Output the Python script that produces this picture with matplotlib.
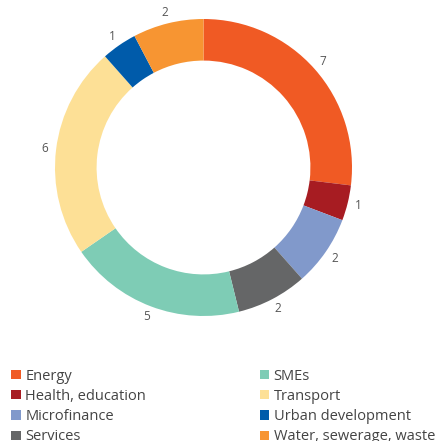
import matplotlib
matplotlib.use("Agg")
import matplotlib.pyplot as plt
import numpy as np

plt.rcParams['font.family'] = ['Open Sans', 'DejaVu Sans']

# sectors and number of projects, clockwise from 12 o'clock
sectors = ["Energy", "Health, education", "Microfinance", "Services",
           "SMEs", "Transport", "Urban development", "Water, sewerage, waste"]
counts = [7, 1, 2, 2, 5, 6, 1, 2]
colors = ["#F05A24", "#A71C22", "#8199CB", "#656667",
          "#7ECCB5", "#FDE096", "#005BAA", "#F79532"]

W, H = 437, 441
fig = plt.figure(figsize=(W / 100, H / 100), dpi=100)

# donut centre / radius in pixels
cx, cy, r = 203.5, 167.5, 148.5
ax = fig.add_axes([(cx - r) / W, (H - cy - r) / H, 2 * r / W, 2 * r / H])

wedges, _ = ax.pie(counts, colors=colors, startangle=90, counterclock=False,
                   radius=1.0, wedgeprops=dict(width=0.28, linewidth=0))
ax.set_xlim(-1, 1)
ax.set_ylim(-1, 1)
ax.set_aspect('equal')
ax.axis('off')

# value labels just outside the ring
total = sum(counts)
cum = np.cumsum([0] + counts)
for i, v in enumerate(counts):
    mid = (cum[i] + v / 2) / total * 2 * np.pi
    x = 1.075 * np.sin(mid)
    y = 1.075 * np.cos(mid)
    ax.text(x, y, str(v), ha='center', va='center', fontsize=8.5,
            color='#555555', clip_on=False)

leg = fig.legend(wedges, sectors, loc='upper left', bbox_to_anchor=(0.026, 0.164),
                 ncol=2, frameon=False, fontsize=10.5, handlelength=0.65,
                 handleheight=0.6, handletextpad=0.3, labelspacing=0.36,
                 columnspacing=7.8, borderpad=0, borderaxespad=0)
for t in leg.get_texts():
    t.set_color('#444444')

fig.savefig("out.png", dpi=100)
